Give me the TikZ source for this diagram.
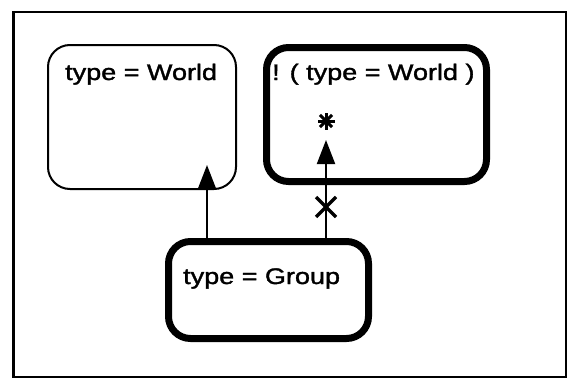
\documentclass[tikz,border=0pt]{standalone}
\usepackage{fontspec}
\newfontfamily\labfont{Liberation Sans}[FakeStretch=1.2,FakeBold=1.6]
\usetikzlibrary{arrows.meta,calc}
\begin{document}
\begin{tikzpicture}[x=1pt,y=-1pt,
  box/.style={draw=black, rounded corners=22pt, inner sep=0pt},
  thinbox/.style={box, line width=2pt},
  thickbox/.style={box, line width=7pt},
  lbl/.style={anchor=base west, inner sep=0pt, font=\labfont\fontsize{22.5}{26}\selectfont},
  conn/.style={line width=2pt, -{Triangle[width=18pt,length=24pt]}},
  xmarkline/.style={line width=3.5pt}]
\useasboundingbox (0,0) rectangle (568,380);
\draw[line width=2.5pt] (13.5,12) rectangle (566,377);
\node[thinbox, minimum width=188pt, minimum height=144pt] (w) at (142,117) {};
\node[thickbox, minimum width=220pt, minimum height=134pt] (nw) at (376.5,114.5) {};
\node[thickbox, minimum width=200pt, minimum height=97pt] (g) at (268.5,290) {};
\node[lbl] (tw) at (65,80) {type = World};
\node[lbl] (tnw) at (272,80) {! ( type = World )};
\node[lbl] (tg) at (183,284) {type = Group};
\coordinate (lt) at (207,165);
\coordinate (rt) at (326,140);
\coordinate (st) at (326,121);
\coordinate (xm) at (326,207);
\draw[conn] (lt |- g.north) -- (lt);
\draw[conn] (rt |- g.north) -- (rt);
\foreach \a in {0,45,90,135}
  \draw[line width=3pt] (st) ++(\a:8.5) -- ++(\a+180:17);
\fill (st) circle (3.5pt);
\draw[xmarkline] ($(xm)+(-10,-10)$) -- ($(xm)+(10,10)$);
\draw[xmarkline] ($(xm)+(-10,10)$) -- ($(xm)+(10,-10)$);
\end{tikzpicture}
\end{document}
